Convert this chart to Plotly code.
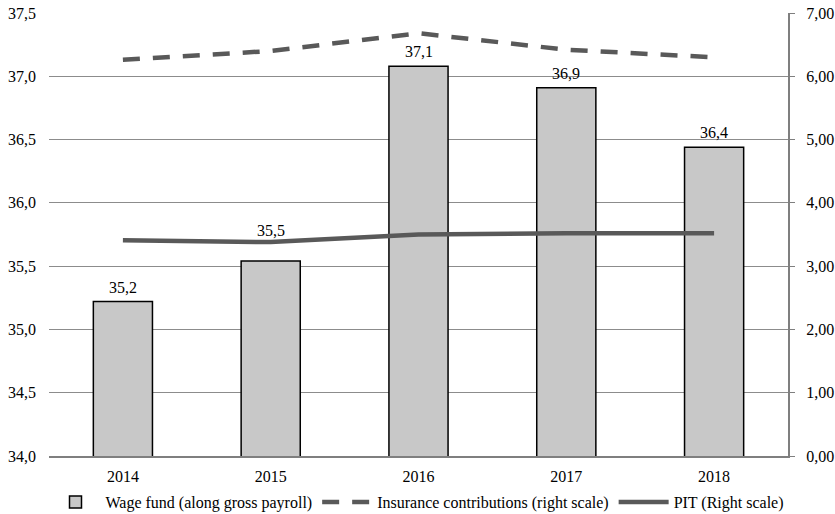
import plotly.graph_objects as go

years = ["2014", "2015", "2016", "2017", "2018"]
wage_fund = [35.22, 35.54, 37.08, 36.91, 36.44]
wage_labels = ["35,2", "35,5", "37,1", "36,9", "36,4"]
insurance = [6.26, 6.40, 6.68, 6.42, 6.30]
pit = [3.41, 3.38, 3.50, 3.52, 3.52]

label_shift = [4, 20, 4, 4, 4]

FONT = "Liberation Serif"
FS = 16
LINE_COLOR = "#595959"

fig = go.Figure()
fig.add_trace(go.Bar(
    x=years, y=wage_fund, name="Wage fund (along gross payroll)",
    marker=dict(color="#c8c8c8", line=dict(color="#000000", width=1.5)),
    width=0.4,
))
fig.add_trace(go.Scatter(
    x=years, y=insurance, name="Insurance contributions (right scale)",
    mode="lines", yaxis="y2",
    line=dict(color=LINE_COLOR, width=4.5, dash="17px,13px"),
))
fig.add_trace(go.Scatter(
    x=years, y=pit, name="PIT (Right scale)",
    mode="lines", yaxis="y2",
    line=dict(color=LINE_COLOR, width=4.5),
))

for i, (v, t, s) in enumerate(zip(wage_fund, wage_labels, label_shift)):
    fig.add_annotation(x=i, y=v, xref="x", yref="y", text=t, showarrow=False,
                       yanchor="bottom", yshift=s,
                       font=dict(family=FONT, size=FS, color="#000000"))

fig.update_layout(
    width=835, height=514,
    margin=dict(l=49, r=47, t=13, b=58),
    paper_bgcolor="white", plot_bgcolor="white",
    separators=", ",
    font=dict(family=FONT, size=FS, color="#000000"),
    showlegend=True,
    legend=dict(orientation="h", x=0.5, xanchor="center", xref="container",
                y=0.023, yanchor="middle", yref="container",
                bgcolor="rgba(0,0,0,0)",
                font=dict(family=FONT, size=FS), itemwidth=50,
                tracegroupgap=0, traceorder="normal", borderwidth=0),
    xaxis=dict(type="category", range=[-0.5, 4.5], showgrid=False, showline=True,
               linecolor="#7f7f7f", linewidth=2, ticks="", ticklabelstandoff=5,
               automargin=False, tickfont=dict(family=FONT, size=FS)),
    yaxis=dict(range=[34.0, 37.5], dtick=0.5, tickformat=".1f", showgrid=True,
               gridcolor="#8c8c8c", gridwidth=1, showline=False, zeroline=False,
               ticks="", ticklabelstandoff=12, automargin=False,
               tickfont=dict(family=FONT, size=FS)),
    yaxis2=dict(range=[0, 7], dtick=1, tickformat=".2f", overlaying="y", side="right",
                showgrid=False, showline=True, linecolor="#7f7f7f", linewidth=2,
                ticks="outside", ticklen=5, tickcolor="#7f7f7f", zeroline=False,
                ticklabelstandoff=8, automargin=False,
                tickfont=dict(family=FONT, size=FS)),
)

fig.write_html("out.html")
